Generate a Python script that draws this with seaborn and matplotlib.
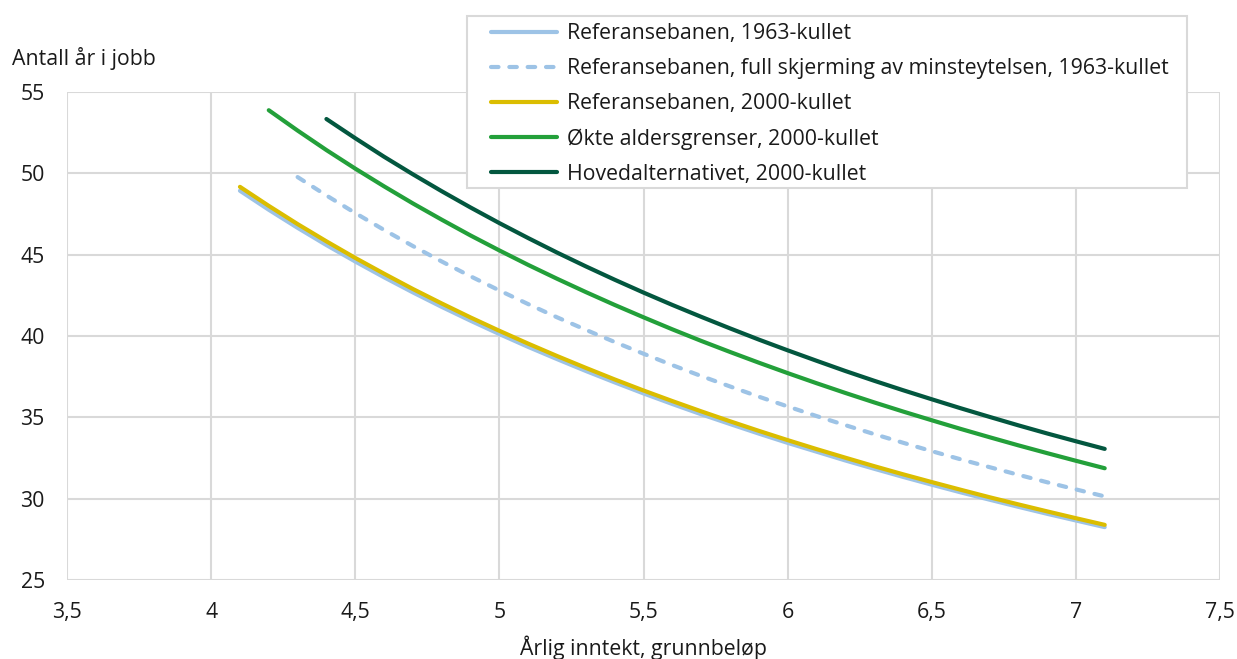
import pandas as pd
import matplotlib.pyplot as plt
from matplotlib.patches import Rectangle
import seaborn as sns

# inntekt (G) i steg på 0,1
x_1963 = [4.1, 4.2, 4.3, 4.4, 4.5, 4.6, 4.7, 4.8, 4.9, 5.0, 5.1, 5.2, 5.3, 5.4, 5.5, 5.6,
          5.7, 5.8, 5.9, 6.0, 6.1, 6.2, 6.3, 6.4, 6.5, 6.6, 6.7, 6.8, 6.9, 7.0, 7.1]
ref_1963 = [48.93, 47.76, 46.65, 45.59, 44.58, 43.61, 42.68, 41.79, 40.94, 40.12, 39.33,
            38.58, 37.85, 37.15, 36.47, 35.82, 35.19, 34.59, 34.00, 33.43, 32.89, 32.35,
            31.84, 31.34, 30.86, 30.39, 29.94, 29.50, 29.07, 28.66, 28.25]

x_skjerm = [4.3, 4.4, 4.5, 4.6, 4.7, 4.8, 4.9, 5.0, 5.1, 5.2, 5.3, 5.4, 5.5, 5.6, 5.7,
            5.8, 5.9, 6.0, 6.1, 6.2, 6.3, 6.4, 6.5, 6.6, 6.7, 6.8, 6.9, 7.0, 7.1]
skjerm_1963 = [49.77, 48.64, 47.56, 46.52, 45.53, 44.58, 43.67, 42.80, 41.96, 41.15, 40.38,
               39.63, 38.91, 38.21, 37.54, 36.90, 36.27, 35.67, 35.08, 34.52, 33.97, 33.44,
               32.92, 32.42, 31.94, 31.47, 31.01, 30.57, 30.14]

x_2000 = x_1963
ref_2000 = [49.17, 48.00, 46.88, 45.82, 44.80, 43.83, 42.89, 42.00, 41.14, 40.32, 39.53,
            38.77, 38.04, 37.33, 36.65, 36.00, 35.37, 34.76, 34.17, 33.60, 33.05, 32.52,
            32.00, 31.50, 31.02, 30.55, 30.09, 29.65, 29.22, 28.80, 28.39]

x_okte = [4.2, 4.3, 4.4, 4.5, 4.6, 4.7, 4.8, 4.9, 5.0, 5.1, 5.2, 5.3, 5.4, 5.5, 5.6, 5.7,
          5.8, 5.9, 6.0, 6.1, 6.2, 6.3, 6.4, 6.5, 6.6, 6.7, 6.8, 6.9, 7.0, 7.1]
okte_2000 = [53.88, 52.63, 51.43, 50.29, 49.20, 48.15, 47.15, 46.18, 45.26, 44.37, 43.52,
             42.70, 41.91, 41.15, 40.41, 39.70, 39.02, 38.36, 37.72, 37.10, 36.50, 35.92,
             35.36, 34.82, 34.29, 33.78, 33.28, 32.80, 32.33, 31.87]

x_hoved = [4.4, 4.5, 4.6, 4.7, 4.8, 4.9, 5.0, 5.1, 5.2, 5.3, 5.4, 5.5, 5.6, 5.7, 5.8,
           5.9, 6.0, 6.1, 6.2, 6.3, 6.4, 6.5, 6.6, 6.7, 6.8, 6.9, 7.0, 7.1]
hoved_2000 = [53.34, 52.16, 51.02, 49.94, 48.90, 47.90, 46.94, 46.02, 45.13, 44.28, 43.46,
              42.67, 41.91, 41.18, 40.47, 39.78, 39.12, 38.48, 37.85, 37.25, 36.67, 36.11,
              35.56, 35.03, 34.51, 34.01, 33.53, 33.06]

labels = ['Referansebanen, 1963-kullet',
          'Referansebanen, full skjerming av minsteytelsen, 1963-kullet',
          'Referansebanen, 2000-kullet',
          'Økte aldersgrenser, 2000-kullet',
          'Hovedalternativet, 2000-kullet']

x_ticks = [3.5, 4, 4.5, 5, 5.5, 6, 6.5, 7, 7.5]
x_ticklabels = ['3,5', '4', '4,5', '5', '5,5', '6', '6,5', '7', '7,5']
y_ticks = [25, 30, 35, 40, 45, 50, 55]

sns.set_style('white')
plt.rcParams['font.family'] = ['Open Sans', 'DejaVu Sans']
fs = 15.3
txt = '#1a1a1a'
W, H = 1237, 659

fig = plt.figure(figsize=(W / 100, H / 100), dpi=100)
ax = fig.add_axes([67 / W, 79 / H, 1153 / W, 488 / H])

lw = 3.0
dash = (1.8, 2.6)
sns.lineplot(x=x_1963, y=ref_1963, ax=ax, color='#9dc3e6', lw=lw, label=labels[0],
             solid_capstyle='round', zorder=3)
sns.lineplot(x=x_skjerm, y=skjerm_1963, ax=ax, color='#9dc3e6', lw=lw, label=labels[1],
             dash_capstyle='round', zorder=3)
ax.lines[-1].set_dashes(dash)
sns.lineplot(x=x_2000, y=ref_2000, ax=ax, color='#dbbd00', lw=lw, label=labels[2],
             solid_capstyle='round', zorder=4)
sns.lineplot(x=x_okte, y=okte_2000, ax=ax, color='#23a03a', lw=lw, label=labels[3],
             solid_capstyle='round', zorder=3)
sns.lineplot(x=x_hoved, y=hoved_2000, ax=ax, color='#03573f', lw=lw, label=labels[4],
             solid_capstyle='round', zorder=3)

ax.set_xlim(3.5, 7.5)
ax.set_ylim(25, 55)
ax.set_xticks(x_ticks)
ax.set_xticklabels(x_ticklabels)
ax.set_yticks(y_ticks)
ax.grid(True, color='#d9d9d9', lw=1.5)
for s in ax.spines.values():
    s.set_visible(False)
ax.tick_params(axis='both', length=0, labelsize=fs, colors=txt, pad=16)

ax.set_xlabel('Årlig inntekt, grunnbeløp', fontsize=fs, color=txt, labelpad=9)
ax.set_ylabel('')
fig.text(12 / W, 1 - 58 / H, 'Antall år i jobb', fontsize=fs, color=txt,
         va='center', ha='left')

# legend: egen ramme, figurlegende over
handles, labs = ax.get_legend_handles_labels()
ax.get_legend().remove()
frame = Rectangle((466.5 / W, 1 - 188 / H), 720 / W, 172 / H, transform=fig.transFigure,
                  facecolor='white', edgecolor='#d9d9d9', lw=1.5, zorder=5)
fig.patches.append(frame)
leg = fig.legend(handles, labs, loc='upper left', bbox_to_anchor=(491 / W, 1 - 23 / H),
                 frameon=False, fontsize=fs, borderpad=0, borderaxespad=0,
                 handlelength=66 / (fs * 100 / 72), handletextpad=0.45, labelspacing=0.66)
leg.set_zorder(6)
for t in leg.get_texts():
    t.set_color(txt)
for i, ln in enumerate(leg.get_lines()):
    ln.set_linewidth(lw)
    ln.set_solid_capstyle('round')
    ln.set_dash_capstyle('round')
    if i == 1:
        ln.set_dashes(dash)

fig.savefig('out.png', dpi=100)
